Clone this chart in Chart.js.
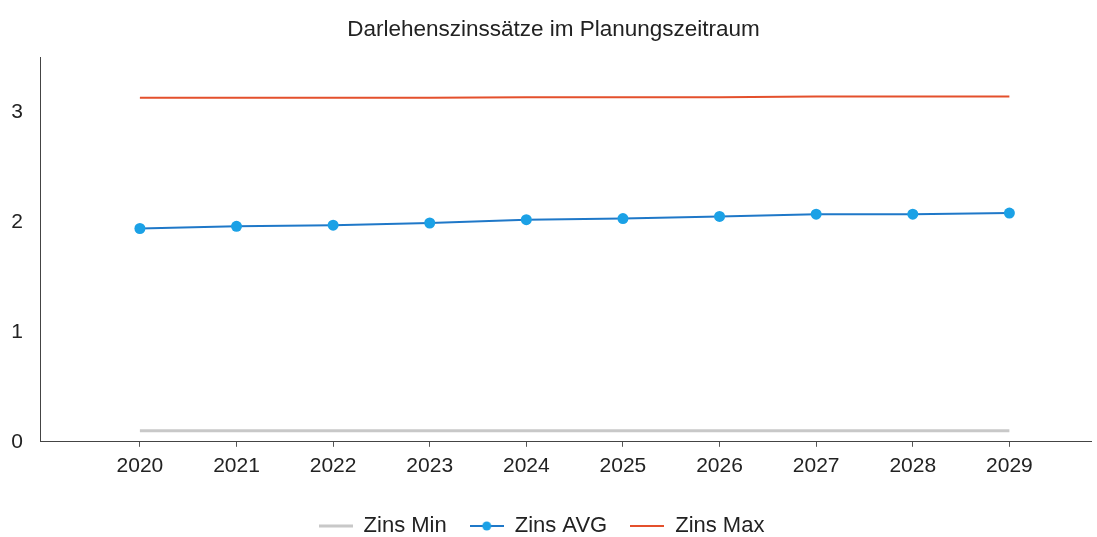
<!DOCTYPE html>
<html>
<head>
<meta charset="utf-8">
<script src="https://cdn.jsdelivr.net/npm/chart.js@4/dist/chart.umd.min.js"></script>
<style>
html,body{margin:0;padding:0;background:#fff;}
#wrap{width:1097px;height:537px;position:relative;}
</style>
</head>
<body>
<div id="wrap"><canvas id="c" width="1097" height="537"></canvas></div>
<script>
const categories = [2020, 2021, 2022, 2023, 2024, 2025, 2026, 2027, 2028, 2029];
const zinsMin = [0.10, 0.10, 0.10, 0.10, 0.10, 0.10, 0.10, 0.10, 0.10, 0.10];
const zinsAvg = [1.94, 1.96, 1.97, 1.99, 2.02, 2.03, 2.05, 2.07, 2.07, 2.08];
const zinsMax = [3.13, 3.13, 3.13, 3.13, 3.135, 3.135, 3.135, 3.14, 3.14, 3.14];
const yTicks = [0, 1, 2, 3];
const seriesNames = ['Zins Min', 'Zins AVG', 'Zins Max'];
const titleText = 'Darlehenszinssätze im Planungszeitraum';

const colMin = '#c8c8c8', colAvgLine = '#1f78c8', colAvgPt = '#1ba1e6', colMax = '#e4502c';
const FONT = '"Liberation Sans", Arial, sans-serif';

function legendIcon(color, lw, dotColor) {
  const cv = document.createElement('canvas');
  cv.width = 34; cv.height = 12;
  const g = cv.getContext('2d');
  g.strokeStyle = color; g.lineWidth = lw;
  g.beginPath(); g.moveTo(0, 6); g.lineTo(34, 6); g.stroke();
  if (dotColor) { g.fillStyle = dotColor; g.beginPath(); g.arc(17, 6, 4.5, 0, Math.PI * 2); g.fill(); }
  return cv;
}
const icons = [legendIcon(colMin, 3), legendIcon(colAvgLine, 2, colAvgPt), legendIcon(colMax, 2)];

const toXY = arr => categories.map((c, i) => ({x: c, y: arr[i]}));

const legendShift = {
  id: 'legendShift',
  afterLayout(chart) {
    const lg = chart.legend;
    if (lg) { lg.left -= 24; }
  }
};

new Chart(document.getElementById('c'), {
  type: 'line',
  data: {
    datasets: [
      {label: seriesNames[0], data: toXY(zinsMin), borderColor: colMin, borderWidth: 3, pointRadius: 0, pointHoverRadius: 0},
      {label: seriesNames[1], data: toXY(zinsAvg), borderColor: colAvgLine, borderWidth: 2, pointRadius: 5.5, pointBackgroundColor: colAvgPt, pointBorderColor: colAvgPt, pointBorderWidth: 0},
      {label: seriesNames[2], data: toXY(zinsMax), borderColor: colMax, borderWidth: 2, pointRadius: 0, pointHoverRadius: 0}
    ]
  },
  plugins: [legendShift],
  options: {
    responsive: false,
    animation: false,
    layout: {padding: {left: 10, right: 0, top: 0, bottom: -10}},
    plugins: {
      tooltip: {enabled: false},
      title: {display: true, text: titleText, color: '#222', font: {family: FONT, size: 22.5, weight: 'normal'}, padding: {top: 16, bottom: 14}},
      legend: {
        position: 'bottom',
        labels: {
          color: '#222',
          font: {family: FONT, size: 22},
          usePointStyle: true,
          pointStyleWidth: 34,
          boxHeight: 12,
          padding: 23,
          generateLabels: chart => {
            const items = Chart.defaults.plugins.legend.labels.generateLabels(chart);
            items.forEach((it, i) => { it.pointStyle = icons[i]; });
            return items;
          }
        }
      }
    },
    scales: {
      x: {
        type: 'linear',
        min: 2018.966,
        max: 2029.85,
        afterBuildTicks: axis => { axis.ticks = categories.map(v => ({value: v})); },
        afterFit: axis => { axis.height += 6; },
        ticks: {color: '#222', font: {family: FONT, size: 21}, padding: 7, maxRotation: 0, callback: v => String(v)},
        grid: {drawOnChartArea: false, drawTicks: true, tickLength: 5, color: '#555'},
        border: {color: '#444', width: 1}
      },
      y: {
        min: 0,
        max: 3.5,
        afterBuildTicks: axis => { axis.ticks = yTicks.map(v => ({value: v})); },
        afterFit: axis => { axis.width = 30; },
        ticks: {color: '#222', font: {family: FONT, size: 21}, padding: 17},
        grid: {drawOnChartArea: false, drawTicks: false},
        border: {color: '#444', width: 1}
      }
    }
  }
});
</script>
</body>
</html>
